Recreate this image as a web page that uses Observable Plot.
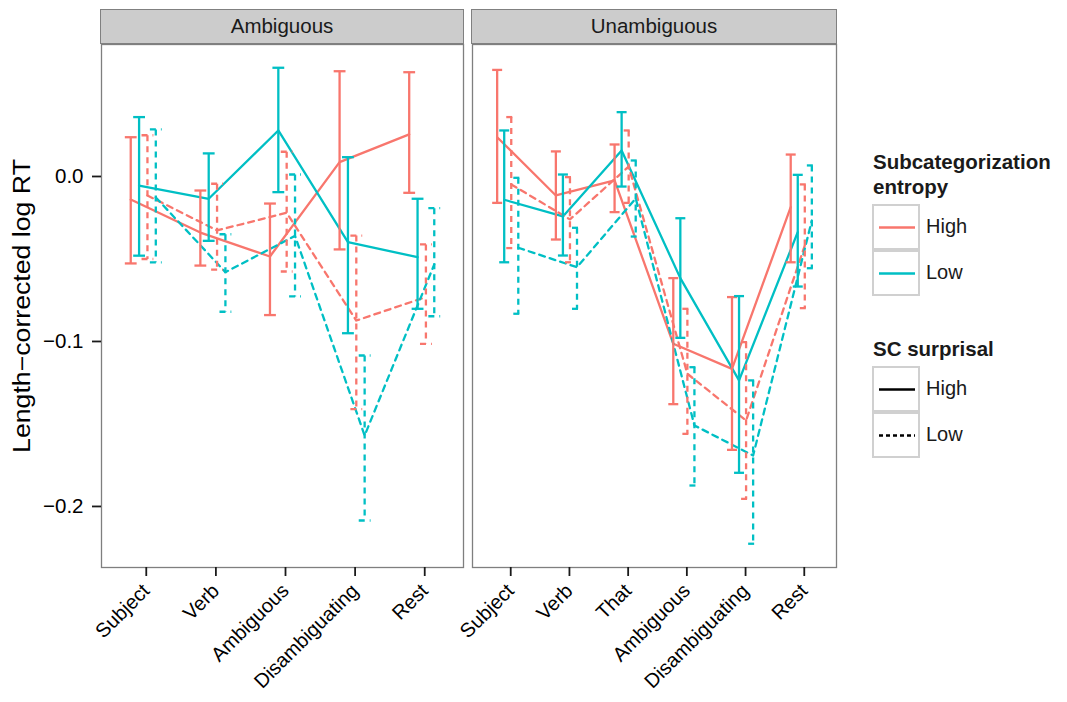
<!DOCTYPE html>
<html><head><meta charset="utf-8">
<script src="https://cdn.jsdelivr.net/npm/d3@7"></script>
<script src="https://cdn.jsdelivr.net/npm/@observablehq/plot@0.6"></script>
<style>
body{margin:0;background:#fff;font-family:"Liberation Sans",Arial,Helvetica,sans-serif;}
#wrap{position:relative;width:1067px;height:702px;overflow:hidden;background:#fff}
.strip{position:absolute;top:9px;height:35px;background:#cccccc;border:1.2px solid #808080;box-sizing:border-box;text-align:center;font-size:20.5px;line-height:32px;color:#1a1a1a}
.panel{position:absolute;top:43px}
.lg{position:absolute;color:#1a1a1a;white-space:nowrap}
.lgt{font-weight:bold;font-size:20.5px;line-height:25px}
.key{position:absolute;width:48px;height:46px;box-sizing:border-box;border:2px solid #d0d0d0;background:#fff}
.key svg{position:absolute;left:0;top:0}
.lbl{font-size:20px;line-height:20px}
.ytitle{position:absolute;left:22px;top:306px;font-size:23px;color:#000;white-space:nowrap;transform:translate(-50%,-50%) rotate(-90deg) scale(1.16,1)}
</style></head>
<body><div id="wrap"></div>
<script>
// ---------------- data ----------------
const ambRegions = ["Subject","Verb","Ambiguous","Disambiguating","Rest"];
const unambRegions = ["Subject","Verb","That","Ambiguous","Disambiguating","Rest"];
const entropyLevels = ["High","Low"];
const surprisalLevels = ["High","Low"];

// Ambiguous panel: entropy / surprisal
const ambHighHighMean = [-0.014, -0.034, -0.0485, 0.0087, 0.0255];
const ambHighHighLo   = [-0.0527, -0.054, -0.084, -0.0442, -0.0099];
const ambHighHighHi   = [0.0238, -0.0085, -0.0164, 0.0638, 0.0632];
const ambLowHighMean  = [-0.0055, -0.0135, 0.0279, -0.0398, -0.0489];
const ambLowHighLo    = [-0.048, -0.039, -0.0095, -0.095, -0.0802];
const ambLowHighHi    = [0.036, 0.014, 0.0659, 0.0117, -0.0135];
const ambHighLowMean  = [-0.0115, -0.0327, -0.022, -0.0873, -0.0731];
const ambHighLowLo    = [-0.050, -0.0564, -0.0576, -0.141, -0.1014];
const ambHighLowHi    = [0.025, -0.0044, 0.015, -0.0358, -0.0412];
const ambLowLowMean   = [-0.0127, -0.058, -0.036, -0.157, -0.0533];
const ambLowLowLo     = [-0.052, -0.082, -0.0727, -0.2085, -0.0847];
const ambLowLowHi     = [0.0285, -0.035, 0.0012, -0.1085, -0.0192];

// Unambiguous panel
const unHighHighMean = [0.0238, -0.0115, -0.0024, -0.1014, -0.1166, -0.0186];
const unHighHighLo   = [-0.016, -0.0382, -0.0216, -0.138, -0.1657, -0.052];
const unHighHighHi   = [0.0646, 0.0152, 0.0194, -0.0616, -0.0731, 0.0133];
const unLowHighMean  = [-0.0141, -0.0242, 0.0158, -0.0616, -0.1236, -0.0337];
const unLowHighLo    = [-0.052, -0.0479, -0.0061, -0.0978, -0.1796, -0.0667];
const unLowHighHi    = [0.0279, 0.0012, 0.039, -0.0253, -0.0725, 0.001];
const unHighLowMean  = [-0.0048, -0.026, 0.006, -0.1196, -0.1479, -0.0418];
const unHighLowLo    = [-0.0434, -0.052, -0.016, -0.156, -0.1954, -0.0798];
const unHighLowHi    = [0.036, -0.0004, 0.0279, -0.0802, -0.1004, -0.0048];
const unLowLowMean   = [-0.0432, -0.055, -0.0133, -0.1509, -0.1691, -0.0267];
const unLowLowLo     = [-0.0832, -0.0802, -0.0364, -0.1873, -0.2226, -0.0556];
const unLowLowHi     = [-0.0008, -0.0311, 0.0097, -0.1156, -0.1236, 0.0067];

const yTicks = [0, -0.1, -0.2];
const yTitle = "Length\u2212corrected log RT";

// ---------------- build tables ----------------
const DODGE = 0.12, CAP = 0.085;
function build(regions, series) {
  const pts = [], segs = [];
  series.forEach((s, gi) => {
    const off = (gi - 1.5) * DODGE;
    regions.forEach((r, i) => {
      const key = s.entropy + "-" + s.surprisal;
      const pos = i + off;
      const base = {entropy: s.entropy, surprisal: s.surprisal, key};
      pts.push({...base, region: r, pos, mean: s.mean[i]});
      const hi = s.hi[i], lo = s.lo[i];
      segs.push({...base, x1: pos - CAP, x2: pos + CAP, y1: hi, y2: hi});
      segs.push({...base, x1: pos, x2: pos, y1: hi, y2: lo});
      segs.push({...base, x1: pos - CAP, x2: pos + CAP, y1: lo, y2: lo});
    });
  });
  return {pts, segs};
}
const amb = build(ambRegions, [
  {entropy:"High", surprisal:"High", mean: ambHighHighMean, lo: ambHighHighLo, hi: ambHighHighHi},
  {entropy:"Low",  surprisal:"High", mean: ambLowHighMean,  lo: ambLowHighLo,  hi: ambLowHighHi},
  {entropy:"High", surprisal:"Low",  mean: ambHighLowMean,  lo: ambHighLowLo,  hi: ambHighLowHi},
  {entropy:"Low",  surprisal:"Low",  mean: ambLowLowMean,   lo: ambLowLowLo,   hi: ambLowLowHi}
]);
const unamb = build(unambRegions, [
  {entropy:"High", surprisal:"High", mean: unHighHighMean, lo: unHighHighLo, hi: unHighHighHi},
  {entropy:"Low",  surprisal:"High", mean: unLowHighMean,  lo: unLowHighLo,  hi: unLowHighHi},
  {entropy:"High", surprisal:"Low",  mean: unHighLowMean,  lo: unHighLowLo,  hi: unHighLowHi},
  {entropy:"Low",  surprisal:"Low",  mean: unLowLowMean,   lo: unLowLowLo,   hi: unLowLowHi}
]);

const COLORS = ["#F8766D", "#00BFC4"];
const DASH = "6,5";
const SW = 2.3;
const FONT = "Liberation Sans, Arial, Helvetica, sans-serif";

function panel(regions, d, opt) {
  const n = regions.length;
  return Plot.plot({
    width: opt.width, height: 659,
    marginLeft: opt.ml, marginRight: 4, marginTop: 1, marginBottom: 135,
    x: {domain: [-0.6, n - 0.4]},
    y: {domain: [-0.237, 0.08]},
    color: {domain: entropyLevels, range: COLORS},
    style: {fontFamily: FONT, background: "transparent", overflow: "visible", color: "#000"},
    marks: [
      Plot.frame({stroke: "#7f7f7f", strokeWidth: 1.3}),
      opt.yaxis ? Plot.axisY({ticks: yTicks, tickFormat: d3.format(".1f"), tickSize: 9, tickPadding: 9,
        fontSize: 20.5, strokeWidth: 1.8, stroke: "#1a1a1a", fill: "#000", label: null}) : Plot.axisY({ticks: [], label: null}),
      Plot.axisX({ticks: d3.range(n), tickFormat: i => regions[i], tickRotate: -45, tickSize: 9, tickPadding: 11, dx: 3,
        fontSize: 20, strokeWidth: 1.8, stroke: "#1a1a1a", fill: "#000", label: null}),
      Plot.line(d.pts.filter(p => p.surprisal === "High"), {x: "pos", y: "mean", z: "key", stroke: "entropy", strokeWidth: SW}),
      Plot.line(d.pts.filter(p => p.surprisal === "Low"), {x: "pos", y: "mean", z: "key", stroke: "entropy", strokeWidth: SW, strokeDasharray: DASH}),
      Plot.link(d.segs.filter(p => p.surprisal === "High"), {x1: "x1", y1: "y1", x2: "x2", y2: "y2", stroke: "entropy", strokeWidth: SW}),
      Plot.link(d.segs.filter(p => p.surprisal === "Low"), {x1: "x1", y1: "y1", x2: "x2", y2: "y2", stroke: "entropy", strokeWidth: SW, strokeDasharray: DASH})
    ]
  });
}

const wrap = document.getElementById("wrap");
function add(el, left) { el.classList.add("panel"); el.style.left = left + "px"; wrap.appendChild(el); }
add(panel(ambRegions, amb, {width: 467, ml: 101, yaxis: true}), 0);
add(panel(unambRegions, unamb, {width: 373, ml: 5, yaxis: false}), 467);

function div(cls, css, html) {
  const e = document.createElement("div"); e.className = cls; Object.assign(e.style, css);
  if (html != null) e.innerHTML = html; wrap.appendChild(e); return e;
}
div("strip", {left: "100px", width: "364px"}, "Ambiguous");
div("strip", {left: "471px", width: "366px"}, "Unambiguous");
div("ytitle", {}, yTitle);

// legend
div("lg lgt", {left: "873px", top: "149px"}, "Subcategorization<br>entropy");
function keyBox(top, color, dash, label) {
  const k = div("key", {left: "872px", top: top + "px"});
  k.innerHTML = `<svg width="46" height="44"><line x1="5" x2="41" y1="21.5" y2="21.5" stroke="${color}" stroke-width="2.4" ${dash ? `stroke-dasharray="${dash}"` : ""}/></svg>`;
  div("lg lbl", {left: "926px", top: (top + 12) + "px"}, label);
}
keyBox(204, COLORS[0], null, entropyLevels[0]);
keyBox(250, COLORS[1], null, entropyLevels[1]);
div("lg lgt", {left: "873px", top: "336px"}, "SC surprisal");
keyBox(366, "#000", null, surprisalLevels[0]);
keyBox(412, "#000", "4,3", surprisalLevels[1]);
</script></body></html>
